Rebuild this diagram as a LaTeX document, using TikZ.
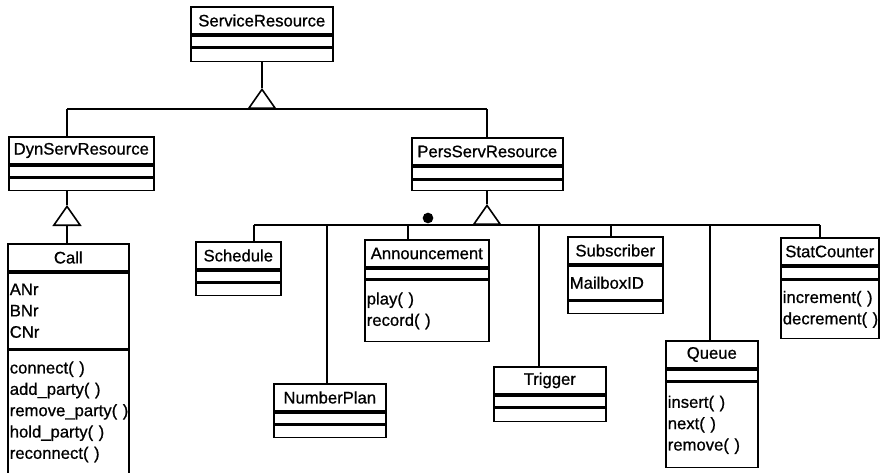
\documentclass[tikz,border=0pt]{standalone}
\usepackage{fontspec}
\setmainfont{Liberation Sans}
\newfontfamily\umlfont{Liberation Sans}[RawFeature={embolden=0.8}]
\usetikzlibrary{arrows.meta, positioning}

\tikzset{
  umltitle/.style={draw, line width=1.2pt, inner sep=0pt, anchor=north west,
    minimum height=20.5pt, font=\umlfont\fontsize{12.5}{16}\selectfont},
  umlpart/.style={draw, line width=1.2pt, inner xsep=1.5pt, inner ysep=0pt,
    align=left, font=\umlfont\fontsize{12.5}{16}\selectfont},
  link/.style={line width=1.2pt},
  gen/.style={line width=1.2pt, -{Triangle[open, length=15.75pt, width=21.75pt]}},
}

\begin{document}
\begin{tikzpicture}[x=0.75pt, y=-0.75pt]
    \useasboundingbox (0,0) rectangle (881,472);

    % Oberklasse
    \node[umltitle, minimum width=106.5pt] (sr) at (190,6) {ServiceResource};
    \node[umlpart, minimum width=106.5pt, minimum height=8.25pt, below=0pt of sr] (sr-a) {};
    \node[umlpart, minimum width=106.5pt, minimum height=9.75pt, below=0pt of sr-a] (sr-m) {};

    % dynamische Ressourcen
    \node[umltitle, minimum width=108.75pt] (dyn) at (8,136) {DynServResource};
    \node[umlpart, minimum width=108.75pt, minimum height=8.25pt, below=0pt of dyn] (dyn-a) {};
    \node[umlpart, minimum width=108.75pt, minimum height=9pt, below=0pt of dyn-a] (dyn-m) {};

    \node[umltitle, minimum width=90.75pt] (call) at (7,243) {Call};
    \node[umlpart, text width=87.75pt, minimum height=57pt, below=0pt of call] (call-a) {ANr\\BNr\\CNr};
    \node[umlpart, text width=87.75pt, minimum height=92.25pt, below=0pt of call-a] (call-m)
        {connect(~)\\add\_party(~)\\remove\_party(~)\\hold\_party(~)\\reconnect(~)};

    % persistente Ressourcen
    \node[umltitle, minimum width=113.25pt] (pers) at (411,137) {PersServResource};
    \node[umlpart, minimum width=113.25pt, minimum height=9pt, below=0pt of pers] (pers-a) {};
    \node[umlpart, minimum width=113.25pt, minimum height=7.5pt, below=0pt of pers-a] (pers-m) {};

    \node[umltitle, minimum width=63.75pt] (sched) at (195,241) {Schedule};
    \node[umlpart, minimum width=63.75pt, minimum height=8.25pt, below=0pt of sched] (sched-a) {};
    \node[umlpart, minimum width=63.75pt, minimum height=9pt, below=0pt of sched-a] (sched-m) {};

    \node[umltitle, minimum width=84pt] (numplan) at (273,383) {NumberPlan};
    \node[umlpart, minimum width=84pt, minimum height=8.25pt, below=0pt of numplan] (numplan-a) {};
    \node[umlpart, minimum width=84pt, minimum height=9pt, below=0pt of numplan-a] (numplan-m) {};

    \node[umltitle, minimum width=93pt] (ann) at (364,239) {Announcement};
    \node[umlpart, minimum width=93pt, minimum height=7.5pt, below=0pt of ann] (ann-a) {};
    \node[umlpart, text width=90pt, minimum height=45.75pt, below=0pt of ann-a] (ann-m) {play(~)\\record(~)};

    \node[umltitle, minimum width=84pt] (trig) at (493,366) {Trigger};
    \node[umlpart, minimum width=84pt, minimum height=8.25pt, below=0pt of trig] (trig-a) {};
    \node[umlpart, minimum width=84pt, minimum height=9.75pt, below=0pt of trig-a] (trig-m) {};

    \node[umltitle, minimum width=71.25pt] (subs) at (567,236) {Subscriber};
    \node[umlpart, text width=68.25pt, minimum height=25.5pt, below=0pt of subs] (subs-a) {MailboxID};
    \node[umlpart, minimum width=71.25pt, minimum height=9pt, below=0pt of subs-a] (subs-m) {};

    \node[umltitle, minimum width=69pt] (queue) at (665,340) {Queue};
    \node[umlpart, minimum width=69pt, minimum height=8.25pt, below=0pt of queue] (queue-a) {};
    \node[umlpart, text width=66pt, minimum height=63.75pt, below=0pt of queue-a] (queue-m)
        {insert(~)\\next(~)\\remove(~)};

    \node[umltitle, minimum width=73.5pt] (stat) at (780,237) {StatCounter};
    \node[umlpart, minimum width=73.5pt, minimum height=9pt, below=0pt of stat] (stat-a) {};
    \node[umlpart, text width=70.5pt, minimum height=43.5pt, below=0pt of stat-a] (stat-m)
        {increment(~)\\decrement(~)};

    % Vererbung oben
    \coordinate (bus1-l) at (67,109);
    \coordinate (bus1-r) at (487,109);
    \coordinate (sr-tip) at (262,88);
    \draw[link] (bus1-l) -- (bus1-r);
    \draw[gen] (sr-tip |- bus1-l) -- (sr-tip);
    \draw[link] (sr-tip) -- (sr-tip |- sr-m.south);
    \draw[link] (bus1-l) -- (bus1-l |- dyn.north);
    \draw[link] (bus1-r) -- (bus1-r |- pers.north);

    % Call
    \coordinate (dyn-tip) at (67,205);
    \draw[link] (dyn-tip |- dyn-m.south) -- (dyn-tip);
    \draw[gen] (dyn-tip |- call.north) -- (dyn-tip);

    % Vererbung unten
    \coordinate (bus2-l) at (254,225);
    \coordinate (bus2-r) at (820,225);
    \coordinate (pers-tip) at (487,204);
    \draw[link] (bus2-l) -- (bus2-r);
    \draw[link] (pers-tip |- pers-m.south) -- (pers-tip);
    \draw[gen] (pers-tip |- bus2-l) -- (pers-tip);
    \foreach \x/\n in {254/sched, 327/numplan, 408/ann, 539/trig, 611/subs, 710/queue, 820/stat} {
        \coordinate (drop-\n) at (\x,225);
        \draw[link] (drop-\n) -- (drop-\n |- \n.north);
    }

    \node[circle, fill, inner sep=0pt, minimum size=8pt] (dot) at (428,218) {};
\end{tikzpicture}
\end{document}
